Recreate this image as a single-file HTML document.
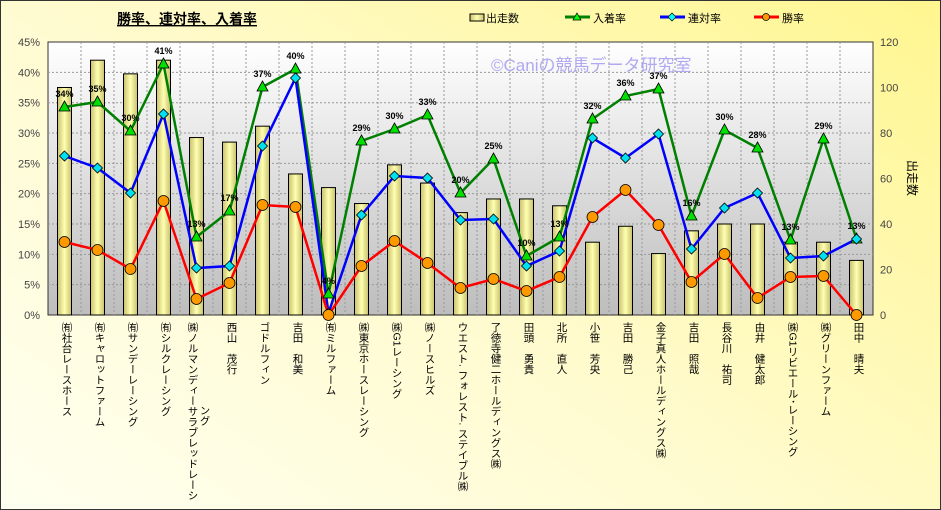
<!DOCTYPE html>
<html><head><meta charset="utf-8"><style>
body{margin:0;width:941px;height:510px;overflow:hidden;font-family:"Liberation Sans","Noto Sans CJK JP",sans-serif}
.wrap{position:absolute;left:0;top:0;width:939px;height:508px;border:1px solid #333;background:linear-gradient(35deg,#fffff0 0%,#fffbd0 45%,#fff690 100%)}
.lab{position:absolute;top:322px;writing-mode:vertical-rl;font-size:10.5px;color:#000;line-height:12px;white-space:nowrap}
</style></head><body><div class="wrap"></div>
<svg width="941" height="510" style="position:absolute;left:0;top:0" font-family="Liberation Sans, Noto Sans CJK JP, sans-serif">
<defs><linearGradient id="pg" x1="0" y1="0" x2="0" y2="1"><stop offset="0" stop-color="#ffffff"/><stop offset="1" stop-color="#bdbdbd"/></linearGradient>
<linearGradient id="bg" x1="0" y1="0" x2="1" y2="0"><stop offset="0" stop-color="#c8c070"/><stop offset="0.5" stop-color="#ffffb0"/><stop offset="1" stop-color="#c8c070"/></linearGradient></defs>
<text x="117" y="24" font-size="14" font-weight="bold" text-decoration="underline">勝率、連対率、入着率</text>
<rect x="470" y="14" width="14" height="7" fill="url(#bg)" stroke="#000"/><text x="486" y="22" font-size="11">出走数</text>
<line x1="565" y1="17" x2="590" y2="17" stroke="#008000" stroke-width="3"/><path d="M577 13 L581 20 L573 20Z" fill="#0f0" stroke="#000" stroke-width=".7"/><text x="593" y="22" font-size="11">入着率</text>
<line x1="660" y1="17" x2="685" y2="17" stroke="#00f" stroke-width="3"/><path d="M672 13 L676 17 L672 21 L668 17Z" fill="#0ff" stroke="#000" stroke-width=".7"/><text x="688" y="22" font-size="11">連対率</text>
<line x1="754" y1="17" x2="779" y2="17" stroke="#f00" stroke-width="3"/><circle cx="766" cy="17" r="3.5" fill="#f90" stroke="#000" stroke-width=".7"/><text x="782" y="22" font-size="11">勝率</text>
<rect x="48" y="42" width="825" height="273" fill="url(#pg)" stroke="#333"/>
<g stroke="#999" stroke-dasharray="2,2" stroke-width="1" id="grid"></g>
<g id="bars"></g><g id="lines"></g>
<text x="491" y="71" font-size="17" fill="#b0a8f0">©Caniの競馬データ研究室</text>
<g font-size="11" fill="#444" text-anchor="end" id="ly"></g>
<g font-size="11" fill="#444" id="ry"></g>
<text font-size="12" transform="translate(908,160) rotate(90)">出走数</text>
</svg>
<div id="labs"></div>
<script>
var N=["㈲社台レースホース","㈲キャロットファーム","㈲サンデーレーシング","㈲シルクレーシング","㈱ノルマンディーサラブレッドレーシ|ング","西山　茂行","ゴドルフィン","吉田　和美","㈲ミルファーム","㈱東京ホースレーシング","㈱G1レーシング","㈱ノースヒルズ","ウエスト. フォレスト. ステイブル㈱","了徳寺健二ホールディングス㈱","田頭　勇貴","北所　直人","小笹　芳央","吉田　勝己","金子真人ホールディングス㈱","吉田　照哉","長谷川　祐司","由井　健太郎","㈱G1リビエール･レーシング","㈱グリーンファーム","田中　晴夫"];
var C=[100,112,106,112,78,76,83,62,56,49,66,58,45,51,51,48,32,39,27,37,40,40,32,32,24];
var G=[107,102,131,64,237,211,87,69,294,141,129,115,193,159,256,237,119,96,89,216,130,148,240,139,239];
var B=[156,168,193,114,268,266,146,78,313,215,176,178,220,219,266,251,138,158,134,249,208,193,258,256,239];
var R=[242,250,269,201,299,283,205,207,315,266,241,263,288,279,291,277,217,190,225,282,254,298,277,276,315];
var P=[34,35,30,41,13,17,37,40,4,29,30,33,20,25,10,13,32,36,37,16,30,28,13,29,13];
function X(i){return 64.5+33*i}
var g="";for(var i=1;i<25;i++)g+='<line x1="'+(48+33*i)+'" y1="42" x2="'+(48+33*i)+'" y2="315"/>';
for(var k=1;k<9;k++){var y=315-k*30.33;g+='<line x1="48" y1="'+y+'" x2="873" y2="'+y+'"/>';}
document.getElementById('grid').innerHTML=g;
var b="";for(i=0;i<25;i++){var h=C[i]*2.275;b+='<rect x="'+(X(i)-7)+'" y="'+(315-h)+'" width="14" height="'+h+'" fill="url(#bg)" stroke="#000" stroke-width="1"/>';}
document.getElementById('bars').innerHTML=b;
function pl(a,c){return '<polyline fill="none" stroke="'+c+'" stroke-width="2.5" points="'+a.map(function(v,i){return X(i)+','+v}).join(' ')+'"/>'}
var l=pl(G,'#008000')+pl(B,'#0000ff')+pl(R,'#ff0000');
for(i=0;i<25;i++){var x=X(i);
l+='<path d="M'+x+' '+(G[i]-6)+' L'+(x+5.5)+' '+(G[i]+4)+' L'+(x-5.5)+' '+(G[i]+4)+'Z" fill="#00e000" stroke="#000" stroke-width=".8"/>';
l+='<path d="M'+x+' '+(B[i]-5)+' L'+(x+5)+' '+B[i]+' L'+x+' '+(B[i]+5)+' L'+(x-5)+' '+B[i]+'Z" fill="#00e0f0" stroke="#000" stroke-width=".8"/>';
l+='<circle cx="'+x+'" cy="'+R[i]+'" r="5.5" fill="#ff9900" stroke="#000" stroke-width=".8"/>';
l+='<text x="'+x+'" y="'+(G[i]-10)+'" font-size="9" font-weight="bold" text-anchor="middle">'+P[i]+'%</text>';}
document.getElementById('lines').innerHTML=l;
var t="";for(k=0;k<10;k++)t+='<text x="40" y="'+(319-k*30.33)+'">'+(k*5)+'%</text>';
document.getElementById('ly').innerHTML=t;
t="";for(k=0;k<7;k++)t+='<text x="880" y="'+(319-k*45.5)+'">'+(k*20)+'</text>';
document.getElementById('ry').innerHTML=t;
var h2="";for(i=0;i<25;i++){var p=N[i].split('|');var x=X(i);
if(p.length>1){h2+='<div class="lab" style="left:'+(x-10)+'px">'+p[0]+'</div><div class="lab" style="left:'+(x+2)+'px;top:405px">'+p[1]+'</div>';}
else h2+='<div class="lab" style="left:'+(x-4)+'px">'+p[0]+'</div>';}
document.getElementById('labs').innerHTML=h2;
</script>
</body></html>
